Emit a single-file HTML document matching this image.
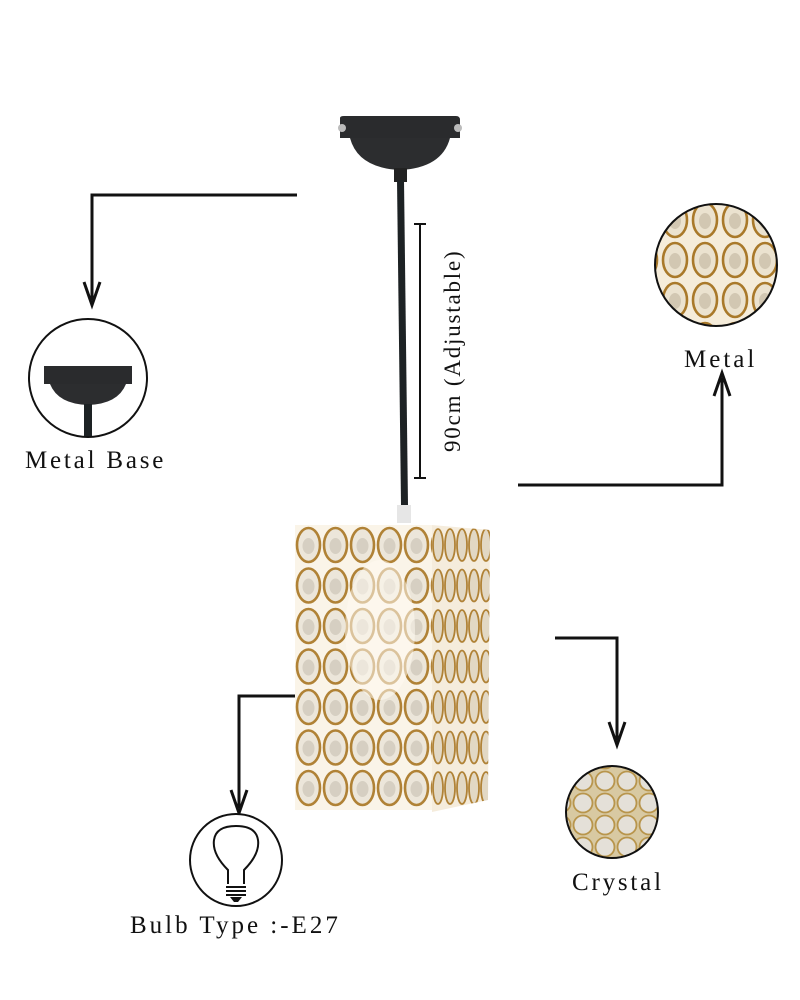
<!DOCTYPE html>
<html><head><meta charset="utf-8"><style>
html,body{margin:0;padding:0;background:#fff}
svg{display:block}
text{font-family:"Liberation Serif",serif;fill:#111}
</style></head><body>
<svg width="800" height="1000" viewBox="0 0 800 1000" xmlns="http://www.w3.org/2000/svg">
<defs>
<pattern id="front" x="295" y="525" width="27" height="40.5" patternUnits="userSpaceOnUse">
<rect width="27" height="40.5" fill="#faf4e8"/>
<ellipse cx="13.5" cy="20" rx="11.5" ry="17" fill="#ece6da" stroke="#b08236" stroke-width="2.6"/>
<ellipse cx="13.5" cy="21" rx="6" ry="8" fill="#d6cfc2"/>
</pattern>
<pattern id="side" x="432" y="525" width="12" height="40.5" patternUnits="userSpaceOnUse">
<rect width="12" height="40.5" fill="#f5ecdc"/>
<ellipse cx="6" cy="20" rx="5" ry="16" fill="#e2d8c4" stroke="#b08236" stroke-width="1.8"/>
</pattern>
<pattern id="mag" x="0" y="0" width="30" height="40" patternUnits="userSpaceOnUse">
<rect width="30" height="40" fill="#f5ecda"/>
<ellipse cx="15" cy="20" rx="12" ry="17" fill="#ebe2cf" stroke="#a9792a" stroke-width="2.6"/>
<ellipse cx="15" cy="21" rx="6" ry="8" fill="#d2c7b2"/>
</pattern>
<pattern id="cry" x="0" y="0" width="22" height="22" patternUnits="userSpaceOnUse">
<rect width="22" height="22" fill="#d8c9a2"/>
<circle cx="11" cy="11" r="9.5" fill="#e4e0d8" stroke="#b8954c" stroke-width="1.8"/>
</pattern>
<clipPath id="c1"><circle cx="716" cy="265" r="61"/></clipPath>
<clipPath id="c2"><circle cx="612" cy="812" r="46"/></clipPath>
</defs>

<path d="M340 118 Q340 116 344 116 L456 116 Q460 116 460 120 L460 138 L340 138 Z" fill="#2a2b2d"/>
<path d="M350 138 L450 138 Q442 168 400 170 Q358 168 350 138 Z" fill="#2c2d2f"/>
<circle cx="342" cy="128" r="4" fill="#bbb"/><circle cx="458" cy="128" r="4" fill="#bbb"/>
<rect x="394" y="168" width="13" height="14" fill="#222"/>
<path d="M397 180 L404 180 L408 505 L401 505 Z" fill="#1d2224"/>
<rect x="397" y="505" width="14" height="18" fill="#e6e6e6"/>
<line x1="420" y1="224" x2="420" y2="478" stroke="#111" stroke-width="2"/>
<line x1="414" y1="224" x2="426" y2="224" stroke="#111" stroke-width="2"/>
<line x1="414" y1="478" x2="426" y2="478" stroke="#111" stroke-width="2"/>
<text transform="translate(460,452) rotate(-90)" font-size="23" letter-spacing="1.8">90cm (Adjustable)</text>

<rect x="295" y="525" width="137" height="285" fill="url(#front)"/>
<path d="M432 525 L490 530 L488 800 L432 812 Z" fill="url(#side)"/>
<ellipse cx="380" cy="630" rx="35" ry="70" fill="#fffaf0" opacity="0.55"/>

<g stroke="#111" stroke-width="3" fill="none">
<polyline points="297,195 92,195 92,300"/>
<polyline points="84,282 92,305 100,282"/>
<polyline points="518,485 722,485 722,378"/>
<polyline points="714,396 722,373 730,396"/>
<polyline points="555,638 617,638 617,740"/>
<polyline points="609,722 617,745 625,722"/>
<polyline points="295,696 239,696 239,808"/>
<polyline points="231,790 239,813 247,790"/>
</g>

<circle cx="88" cy="378" r="59" fill="#fff" stroke="#111" stroke-width="2"/>
<rect x="70" y="312" width="38" height="4" fill="#fff"/>
<path d="M44 366 L132 366 L132 384 L44 384 Z" fill="#2a2b2d"/>
<path d="M50 384 L126 384 Q118 404 88 405 Q58 404 50 384 Z" fill="#2c2d2f"/>
<rect x="84" y="404" width="8" height="32" fill="#1d2224"/>
<text x="25" y="468" font-size="25" letter-spacing="2.8">Metal Base</text>

<g clip-path="url(#c1)"><rect x="650" y="200" width="135" height="130" fill="url(#mag)"/></g>
<circle cx="716" cy="265" r="61" fill="none" stroke="#111" stroke-width="2"/>
<text x="684" y="367" font-size="25" letter-spacing="3">Metal</text>

<g clip-path="url(#c2)"><rect x="560" y="760" width="110" height="110" fill="url(#cry)"/></g>
<circle cx="612" cy="812" r="46" fill="none" stroke="#111" stroke-width="2"/>
<text x="572" y="890" font-size="25" letter-spacing="2.8">Crystal</text>

<circle cx="236" cy="860" r="46" fill="#fff" stroke="#111" stroke-width="2"/>
<path d="M228 884 L228 870 Q212 854 214 840 Q216 826 236 826 Q256 826 258 840 Q260 854 244 870 L244 884" fill="none" stroke="#111" stroke-width="2"/>
<g stroke="#111" stroke-width="2"><line x1="226" y1="887" x2="246" y2="887"/><line x1="226" y1="891" x2="246" y2="891"/><line x1="226" y1="895" x2="246" y2="895"/></g>
<path d="M230 897 L242 897 L238 902 L234 902 Z" fill="#111"/>
<text x="130" y="933" font-size="25" letter-spacing="3">Bulb Type :-E27</text>
</svg>
</body></html>
